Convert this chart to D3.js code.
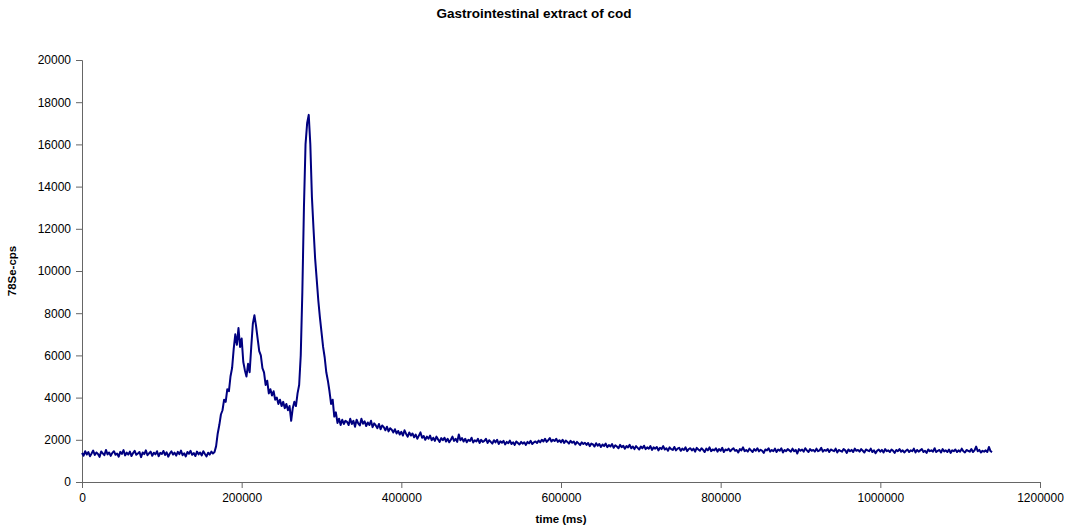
<!DOCTYPE html>
<html>
<head>
<meta charset="utf-8">
<script src="https://cdnjs.cloudflare.com/ajax/libs/d3/7.8.5/d3.min.js"></script>
<style>
  body { margin: 0; background: #fff; }
  svg { display: block; font-family: "Liberation Sans", Arial, sans-serif; }
</style>
</head>
<body>
<div id="chart"></div>
<script>
// sampling: one reading every 2000 ms, starting at 0
var tStart = 0, tStep = 2000;

// baseline before elution (0 .. 166000 ms)
var baseline = [
  1380,1250,1460,1300,1420,1220,1350,1490,1280,1400,
  1330,1190,1450,1360,1270,1520,1310,1400,1240,1380,
  1460,1290,1350,1200,1430,1330,1510,1260,1390,1300,
  1440,1230,1370,1480,1290,1350,1420,1180,1400,1320,
  1500,1270,1360,1440,1240,1390,1310,1460,1220,1380,
  1330,1470,1280,1410,1200,1350,1450,1300,1390,1250,
  1430,1320,1490,1270,1360,1210,1420,1340,1480,1290,
  1370,1230,1440,1310,1400,1260,1460,1330,1210,1390,
  1300,1440,1350,1420
];

// peaks (168000 .. 330000 ms)
var peaks = [
  1700,2300,2700,3200,3400,3900,3800,4400,4300,5000,
  5400,6300,7000,6500,7300,6400,6800,5700,5300,5000,
  5600,5200,6400,7500,7900,7400,6800,6200,6000,5400,
  5200,4600,4800,4200,4400,4100,4300,3900,4000,3700,
  3900,3600,3800,3500,3700,3400,3600,2900,3500,3800,
  3600,4200,4600,6000,9000,13000,16000,17000,17400,16000,
  13500,12000,10600,9600,8600,7800,7100,6400,5900,5200,
  4800,4300,3700,3900,3100,3300,2800,3000,2700,2950,
  2750,2900
];

// slow tail (332000 .. 1140000 ms)
var tail = [
  2850,2700,3000,2750,2900,2620,2950,2780,2680,3000,
  2760,2880,2650,2820,2700,2900,2600,2780,2680,2550,
  2750,2500,2680,2600,2450,2620,2400,2550,2480,2350,
  2500,2300,2420,2250,2380,2200,2450,2280,2150,2350,
  2200,2300,2120,2250,2050,2200,2350,2100,2180,2000,
  2150,2050,2200,1980,2100,1950,2150,2020,1900,2080,
  1980,2100,1920,2050,1880,2000,2150,1950,2050,1900,
  2250,1980,2080,1920,2050,1880,2000,1950,2100,1870,
  1980,1920,2050,1850,2000,1900,1950,2050,1850,1980,
  1900,1820,1980,1880,2000,1800,1930,1860,1950,1780,
  1900,1840,1960,1800,1880,1760,1920,1850,1780,1900,
  1820,1880,1760,1900,1830,1950,1800,1880,1920,1850,
  1960,1880,2000,1920,2050,1900,1980,2080,1920,2000,
  1940,2050,1900,1980,1880,2000,1850,1960,1900,1820,
  1950,1860,1920,1780,1900,1830,1750,1880,1800,1860,
  1760,1850,1700,1820,1780,1680,1840,1720,1800,1660,
  1780,1700,1820,1650,1750,1680,1800,1620,1740,1680,
  1600,1760,1650,1720,1580,1700,1640,1760,1600,1680,
  1560,1700,1620,1540,1680,1600,1720,1560,1640,1580,
  1700,1520,1640,1580,1660,1500,1620,1560,1700,1540,
  1600,1480,1640,1560,1520,1660,1500,1580,1620,1480,
  1580,1520,1640,1460,1560,1600,1500,1580,1440,1620,
  1540,1480,1600,1520,1420,1580,1500,1640,1460,1540,
  1500,1600,1440,1560,1480,1620,1420,1540,1500,1580,
  1460,1540,1600,1480,1520,1400,1560,1500,1640,1460,
  1520,1440,1580,1500,1420,1560,1480,1600,1450,1530,
  1480,1380,1540,1500,1600,1440,1520,1460,1580,1420,
  1540,1480,1600,1400,1520,1460,1560,1500,1440,1580,
  1460,1520,1350,1560,1480,1540,1440,1600,1500,1420,
  1560,1480,1520,1440,1580,1460,1500,1620,1440,1520,
  1480,1560,1420,1540,1500,1460,1580,1400,1520,1480,
  1440,1560,1500,1380,1540,1460,1520,1420,1580,1480,
  1520,1440,1560,1480,1400,1540,1500,1460,1580,1420,
  1500,1360,1480,1540,1440,1520,1400,1560,1460,1500,
  1420,1540,1480,1380,1520,1460,1560,1440,1500,1400,
  1480,1540,1420,1500,1460,1580,1400,1520,1440,1500,
  1560,1420,1480,1380,1540,1460,1500,1440,1600,1420,
  1480,1520,1400,1560,1450,1500,1420,1540,1380,1500,
  1460,1540,1420,1500,1440,1580,1460,1400,1520,1480,
  1440,1560,1420,1500,1680,1460,1520,1400,1480,1440,
  1500,1420,1660,1460,1420
];

var xTicks = [0, 200000, 400000, 600000, 800000, 1000000, 1200000];
var yTicks = [0, 2000, 4000, 6000, 8000, 10000, 12000, 14000, 16000, 18000, 20000];

var cps = baseline.concat(peaks, tail);
var data = cps.map(function (v, i) { return { t: tStart + i * tStep, v: v }; });

var W = 1067, H = 529;
var margin = { top: 60, right: 27, bottom: 47, left: 82 },
  width = W - margin.left - margin.right,
  height = H - margin.top - margin.bottom;

var svg = d3.select('#chart').append('svg')
  .attr('width', W)
  .attr('height', H);

svg.append('text')
  .attr('x', 534).attr('y', 18)
  .attr('text-anchor', 'middle')
  .attr('font-size', 13.5)
  .attr('font-weight', 'bold')
  .text('Gastrointestinal extract of cod');

var g = svg.append('g')
  .attr('transform', 'translate(' + margin.left + ',' + margin.top + ')');

var x = d3.scaleLinear().domain([0, 1200000]).range([0, width]);
var y = d3.scaleLinear().domain([0, 20000]).range([height, 0]);

var xAxis = g.append('g')
  .attr('transform', 'translate(0,' + height + ')')
  .call(d3.axisBottom(x).tickValues(xTicks).tickFormat(d3.format('d')).tickSizeOuter(0).tickSize(6).tickPadding(5));

var yAxis = g.append('g')
  .call(d3.axisLeft(y).tickValues(yTicks).tickFormat(d3.format('d')).tickSizeOuter(0).tickSize(6).tickPadding(5));

[xAxis, yAxis].forEach(function (a) {
  a.select('.domain').attr('stroke', '#666');
  a.selectAll('.tick line').attr('stroke', '#666');
  a.selectAll('.tick text')
    .attr('fill', '#000')
    .attr('font-size', 12)
    .attr('font-family', '"Liberation Sans", Arial, sans-serif');
});

var line = d3.line()
  .x(function (d) { return x(d.t); })
  .y(function (d) { return y(d.v); });

g.append('path')
  .datum(data)
  .attr('fill', 'none')
  .attr('stroke', '#000080')
  .attr('stroke-width', 2)
  .attr('stroke-linejoin', 'round')
  .attr('d', line);

svg.append('text')
  .attr('x', margin.left + width / 2).attr('y', 523)
  .attr('text-anchor', 'middle')
  .attr('font-size', 11.5)
  .attr('font-weight', 'bold')
  .text('time (ms)');

svg.append('text')
  .attr('transform', 'translate(16,' + (margin.top + height / 2) + ') rotate(-90)')
  .attr('text-anchor', 'middle')
  .attr('font-size', 11.5)
  .attr('font-weight', 'bold')
  .text('78Se-cps');
</script>
</body>
</html>
